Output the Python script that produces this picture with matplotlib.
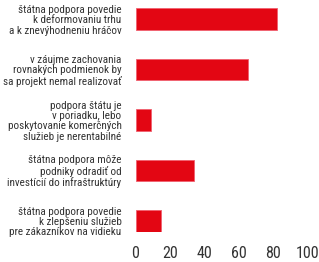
import matplotlib
matplotlib.use('Agg')
import matplotlib.pyplot as plt

# odpovede a podiel (%)
labels = [
    'štátna podpora povedie\nk deformovaniu trhu\na k znevýhodneniu hráčov',
    'v záujme zachovania\nrovnakých podmienok by\nsa projekt nemal realizovať',
    'podpora štátu je\nv poriadku, lebo\nposkytovanie komerčných\nslužieb je nerentabilné',
    'štátna podpora môže\npodniky odradiť od\ninvestícií do infraštruktúry',
    'štátna podpora povedie\nk zlepšeniu služieb\npre zákazníkov na vidieku',
]
values = [82, 65, 9, 34, 14.5]
xticks = [0, 20, 40, 60, 80, 100]

plt.rcParams['font.family'] = ['Roboto Condensed', 'Roboto', 'DejaVu Sans']
plt.rcParams['font.stretch'] = 'condensed'

fig = plt.figure(figsize=(3.19, 2.62), dpi=100)
ax = fig.add_axes([135.5 / 319, 30 / 262, 172.5 / 319, 232 / 262])

pos = list(range(len(values)))
ax.barh(pos, values, height=0.43, color='#e30613', edgecolor='#f06070', linewidth=0.6)
ax.set_xlim(0, 100)
ax.set_ylim(4.22, -0.376)
ax.set_xticks(xticks)
ax.set_xticklabels([str(t) for t in xticks], fontsize=11.5, color='#333333')
ax.set_yticks(pos)
ax.set_yticklabels(labels, fontsize=8.0, color='#333333', linespacing=1.05)
ax.tick_params(length=0)
ax.tick_params(axis='x', pad=10)
ax.tick_params(axis='y', pad=10)
for s in ax.spines.values():
    s.set_visible(False)

fig.savefig('out.png', dpi=100)
